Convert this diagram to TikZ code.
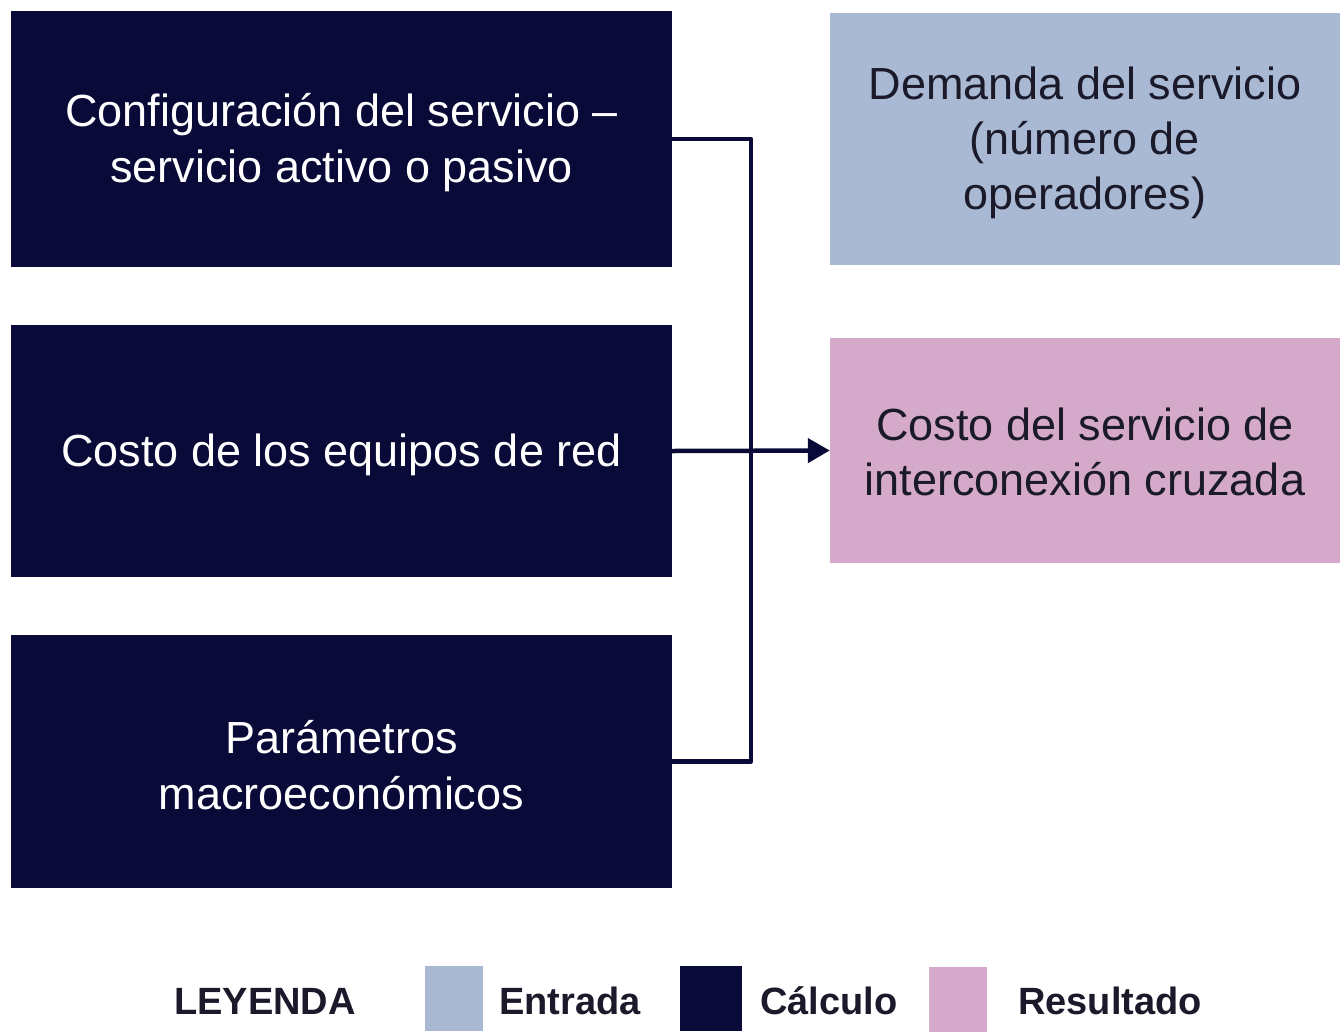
\documentclass[tikz,border=0pt]{standalone}
\usepackage{fontspec}
\setmainfont{Liberation Sans}
\usetikzlibrary{arrows.meta}
\definecolor{calc}{HTML}{0A0A38}
\definecolor{entrada}{HTML}{A9B9D3}
\definecolor{resultado}{HTML}{D4A9C9}
\definecolor{txt}{HTML}{1A1A2A}
\begin{document}
\begin{tikzpicture}[x=1pt,y=-1pt,
  calcbox/.style={fill=calc,draw=none,minimum width=661pt,inner sep=0pt},
  inbox/.style={fill=entrada,draw=none,minimum width=510pt,inner sep=0pt},
  outbox/.style={fill=resultado,draw=none,minimum width=510pt,inner sep=0pt},
  calctext/.style={text=white,align=center,font=\fontsize{45}{56}\selectfont,inner sep=0pt,yshift=-4pt},
  darktext/.style={text=txt,align=center,font=\fontsize{45}{55}\selectfont,inner sep=0pt,yshift=-4pt},
  legsq/.style={draw=none,minimum width=58pt,minimum height=65pt,inner sep=0pt},
  legtxt/.style={font=\fontsize{38}{40}\bfseries\selectfont,text=txt,inner sep=0pt},
  conn/.style={draw=calc,line width=4.5pt}]
\useasboundingbox (0,0) rectangle (1340,1031);
\node[calcbox,minimum height=256pt,label={[calctext]center:Configuración del servicio –\\servicio activo o pasivo}] (b1) at (341.5,139) {};
\node[calcbox,minimum height=252pt,label={[calctext]center:Costo de los equipos de red}] (b2) at (341.5,451) {};
\node[calcbox,minimum height=253pt,label={[calctext]center:Parámetros\\macroeconómicos}] (b3) at (341.5,761.5) {};
\node[inbox,minimum height=252pt,label={[darktext]center:Demanda del servicio\\(número de\\operadores)}] (dem) at (1085,139) {};
\node[outbox,minimum height=225pt,label={[darktext,yshift=3pt]center:Costo del servicio de\\interconexión cruzada}] (res) at (1085,450.5) {};
\coordinate (j1) at (751,139);
\draw[conn,line join=round] (b1.east) -- (j1) |- (b3.east);
\draw[conn,-{Triangle[length=22pt,width=24pt]}] (b2.east) -- (res.west);
% legend
\node[legtxt] (ley) at (265,1001) {LEYENDA};
\node[legsq,fill=entrada] (sq1) at (454,998.5) {};
\node[legtxt,anchor=west] (l1) at (499,1001) {Entrada};
\node[legsq,fill=calc,minimum width=62pt] (sq2) at (711,998.5) {};
\node[legtxt,anchor=west] (l2) at (760,1001) {Cálculo};
\node[legsq,fill=resultado] (sq3) at (958,999) {};
\node[legtxt,anchor=west] (l3) at (1018,1001) {Resultado};
\end{tikzpicture}
\end{document}
